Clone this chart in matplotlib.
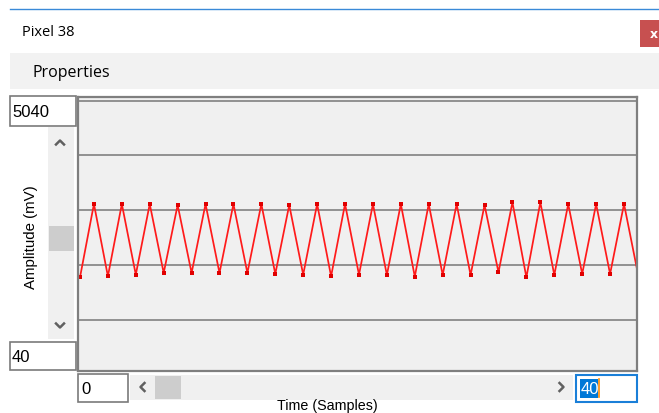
import matplotlib
matplotlib.use("Agg")
import matplotlib.pyplot as plt
from matplotlib.patches import Rectangle

# ---- data ----
samples = list(range(41))
amplitude = [1774, 3113, 1793, 3113, 1822, 3113, 1853, 3095, 1853, 3113,
             1853, 3113, 1853, 3113, 1835, 3095, 1822, 3113, 1793, 3113,
             1822, 3113, 1816, 3113, 1787, 3113, 1816, 3113, 1816, 3095,
             1866, 3144, 1774, 3144, 1816, 3113, 1835, 3113, 1835, 3113,
             1835]
grid_values = [1000, 2000, 3000, 4000, 5000]
window_title = "Pixel 38"
menu_label = "Properties"
y_max_label = "5040"
y_min_label = "40"
x_min_label = "0"
x_max_label = "40"
y_axis_label = "Amplitude (mV)"
x_axis_label = "Time (Samples)"

W, H = 659, 414
fig = plt.figure(figsize=(W / 100, H / 100), dpi=100)
fig.patch.set_facecolor("white")

# UI overlay in pixel coordinates
ui = fig.add_axes([0, 0, 1, 1], zorder=0)
ui.set_xlim(0, W)
ui.set_ylim(H, 0)
ui.axis("off")

def rect(x0, y0, x1, y1, fc, ec="none", lw=0, z=1):
    ui.add_patch(Rectangle((x0, y0), x1 - x0, y1 - y0, facecolor=fc,
                           edgecolor=ec, linewidth=lw, zorder=z))

# title bar
ui.plot([10, W], [10, 10], color="#3a8ad8", lw=1.0, zorder=2)
ui.text(22, 32, window_title, family="Open Sans", fontsize=10.5,
        va="center", ha="left", color="#000000")
rect(640, 21, W + 2, 48, "#c75050")
ui.text(654, 34.5, "x", family="DejaVu Sans", fontsize=9, fontweight="bold",
        color="white", va="center", ha="center", zorder=3)

# properties band
rect(10, 54, W + 2, 90, "#f2f2f2")
ui.text(32, 73, menu_label, family="Open Sans", fontsize=11.5,
        va="center", ha="left", color="#000000", zorder=3)

# text boxes
num_font = dict(family="Liberation Sans", fontsize=12, va="center", ha="left")
rect(10, 97, 76, 127, "white", "#7a7a7a", 1.2)
ui.text(12, 112.5, y_max_label, **num_font, zorder=3)
rect(10, 343, 76, 371, "white", "#7a7a7a", 1.2)
ui.text(12, 357.5, y_min_label, **num_font, zorder=3)
rect(78, 375, 128, 403, "white", "#7a7a7a", 1.2)
ui.text(81, 389.5, x_min_label, **num_font, zorder=3)
rect(576, 375.5, 637, 403, "white", "#1a7fd8", 1.5)
rect(580, 380, 597.5, 398.5, "#0078d7", z=2)
ui.plot([598.5, 598.5], [380, 398.5], color="#ff8a00", lw=1.2, zorder=3)
ui.text(580.5, 389.5, x_max_label, family="Liberation Sans", fontsize=12,
        va="center", ha="left", color="white", zorder=4)

# vertical scrollbar
rect(48, 128, 74, 340, "#f0f0f0")
rect(48.5, 227, 73.5, 252, "#cdcdcd", z=2)
ui.plot([56, 60, 64], [145.5, 141.5, 145.5], color="#606060", lw=1.8, zorder=3)
ui.plot([56, 60, 64], [324.5, 328.5, 324.5], color="#606060", lw=1.8, zorder=3)

# horizontal scrollbar
rect(130, 376, 573, 401, "#f0f0f0")
rect(155, 377, 181, 400, "#cdcdcd", z=2)
ui.plot([144.5, 140.5, 144.5], [384, 388, 392], color="#606060", lw=1.8, zorder=3)
ui.plot([559.5, 563.5, 559.5], [384, 388, 392], color="#606060", lw=1.8, zorder=3)

# axis labels
ui.text(30.5, 237, y_axis_label, family="Liberation Sans", fontsize=10.8,
        rotation=90, va="center", ha="center", color="#000000")
ui.text(327, 413.5, x_axis_label, family="Liberation Sans", fontsize=10.3,
        va="bottom", ha="center", color="#000000")

# plot area (pixel frame 78..637 x 98..372)
px0, py0, px1, py1 = 78, 98, 637, 372
ax = fig.add_axes([px0 / W, 1 - py1 / H, (px1 - px0) / W, (py1 - py0) / H],
                  zorder=2)
ax.set_facecolor("#f0f0f0")
ax.plot(samples, amplitude, color="#ff1a1a", lw=1.25, marker="s",
        markersize=2.4, markeredgewidth=0, markerfacecolor="#e00000",
        clip_on=True)
ax.set_xlim(-0.143, 39.93)
ax.set_ylim(63, 5068)
ax.set_yticks(grid_values)
ax.set_xticks([])
ax.grid(axis="y", color="#8a8a8a", lw=1.3)
ax.set_axisbelow(True)
ax.tick_params(left=False, labelleft=False)
for s in ax.spines.values():
    s.set_color("#7f7f7f")
    s.set_linewidth(1.6)

fig.savefig("out.png", dpi=100, facecolor="white")
